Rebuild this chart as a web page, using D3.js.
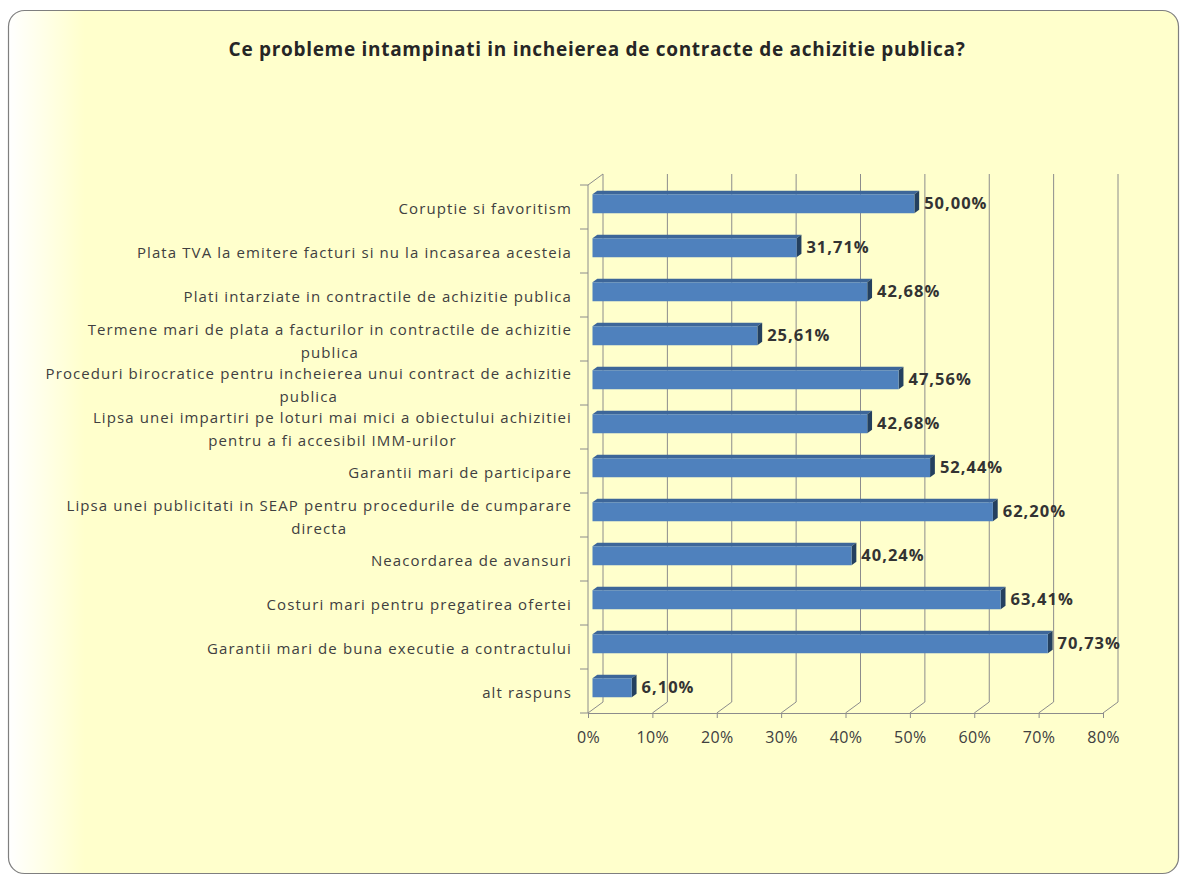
<!DOCTYPE html>
<html>
<head>
<meta charset="utf-8">
<script src="https://cdn.jsdelivr.net/npm/d3@7"></script>
<style>
  html, body { margin: 0; padding: 0; background: #fff; }
  text { font-family: "Open Sans", "Liberation Sans", sans-serif; }
</style>
</head>
<body>
<div id="chart"></div>
<script>
"use strict";

// categories (top to bottom), each label split into lines as in the chart
const categories = [
    ["Coruptie si favoritism"],
    ["Plata TVA la emitere facturi si nu la incasarea acesteia"],
    ["Plati intarziate in contractile de achizitie publica"],
    ["Termene mari de plata a facturilor in contractile de achizitie", "publica"],
    ["Proceduri birocratice pentru incheierea unui contract de achizitie", "publica"],
    ["Lipsa unei impartiri pe loturi mai mici a obiectului achizitiei", "pentru a fi accesibil IMM-urilor"],
    ["Garantii mari de participare"],
    ["Lipsa unei publicitati in SEAP pentru procedurile de cumparare", "directa"],
    ["Neacordarea de avansuri"],
    ["Costuri mari pentru pregatirea ofertei"],
    ["Garantii mari de buna executie a contractului"],
    ["alt raspuns"]
];
const values = [50.00, 31.71, 42.68, 25.61, 47.56, 42.68, 52.44, 62.20, 40.24, 63.41, 70.73, 6.10];
const xTicks = [0, 10, 20, 30, 40, 50, 60, 70, 80];
const title = "Ce probleme intampinati in incheierea de contracte de achizitie publica?";

const W = 1181, H = 876;
const svg = d3.select("#chart").append("svg")
    .attr("width", W)
    .attr("height", H);

// fond cu gradient alb -> galben
const defs = svg.append("defs");
const grad = defs.append("linearGradient")
    .attr("id", "bg")
    .attr("x1", "0").attr("x2", "1").attr("y1", "0").attr("y2", "0");
grad.append("stop").attr("offset", "0").attr("stop-color", "#ffffff");
grad.append("stop").attr("offset", "0.065").attr("stop-color", "#ffffcc");
grad.append("stop").attr("offset", "1").attr("stop-color", "#ffffcc");

svg.append("rect")
    .attr("x", 8.5).attr("y", 10.5)
    .attr("width", 1170).attr("height", 863)
    .attr("rx", 16).attr("ry", 16)
    .attr("fill", "url(#bg)")
    .attr("stroke", "#7f7f7f")
    .attr("stroke-width", 1.2);

svg.append("text")
    .attr("x", 597)
    .attr("y", 56)
    .attr("text-anchor", "middle")
    .attr("font-size", 19)
    .attr("letter-spacing", 0.7)
    .attr("font-weight", "bold")
    .attr("fill", "#262626")
    .text(title);

// scale
const x = d3.scaleLinear().domain([0, 80]).range([588, 1103]);
const y = d3.scaleBand().domain(d3.range(categories.length)).range([185, 713]);

// adancime 3D
const depthX = 15, depthY = 11;
const P = (v, yy, d) => [x(v) + depthX * d, yy - depthY * d];
const grid = svg.append("g").attr("stroke", "#8c8c8c").attr("stroke-width", 1).attr("fill", "none");
const yTop = 185, yBot = 713;

// perete spate: linii verticale + diagonale pe podea
xTicks.forEach(t => {
    const [bx, by] = P(t, yBot, 1);
    const [tx, ty] = P(t, yTop, 1);
    grid.append("line").attr("x1", bx).attr("y1", by).attr("x2", tx).attr("y2", ty);
    grid.append("line").attr("x1", x(t)).attr("y1", yBot).attr("x2", bx).attr("y2", by);
});
// peretele stang: diagonala sus
{
    const [tx, ty] = P(0, yTop, 1);
    grid.append("line").attr("x1", x(0)).attr("y1", yTop).attr("x2", tx).attr("y2", ty);
}
// axa verticala fata
grid.append("line").attr("x1", x(0)).attr("y1", yTop).attr("x2", x(0)).attr("y2", yBot);
// tick-uri categorii
d3.range(categories.length + 1).forEach(i => {
    const yy = yTop + i * y.step();
    grid.append("line").attr("x1", x(0) - 8).attr("y1", yy).attr("x2", x(0)).attr("y2", yy);
});

// axa orizontala
const xAxis = svg.append("g")
    .attr("transform", `translate(0,${yBot})`)
    .call(d3.axisBottom(x).tickValues(xTicks).tickSize(5).tickPadding(14).tickFormat(d => d + "%"));
xAxis.select(".domain").attr("stroke", "#8c8c8c");
xAxis.selectAll(".tick line").attr("stroke", "#8c8c8c");
xAxis.selectAll(".tick text")
    .attr("font-size", 16)
    .attr("letter-spacing", 0.4)
    .attr("fill", "#404040")
    .attr("font-family", "Open Sans, sans-serif");

// bare 3D
const d0 = 0.3, d1 = 0.62;
const barH = 19;
const bars = svg.append("g");
values.forEach((v, i) => {
    const yc = y(i) + y.bandwidth() / 2;
    const yt = yc - barH / 2, yb = yc + barH / 2;
    const a = P(0, yt, d0), b = P(v, yt, d0), c = P(v, yb, d0), e = P(0, yb, d0);
    const a2 = P(0, yt, d1), b2 = P(v, yt, d1), c2 = P(v, yb, d1);
    const poly = pts => pts.map(p => p.join(",")).join(" ");
    // fata de sus
    bars.append("polygon").attr("points", poly([a, b, b2, a2])).attr("fill", "#3d6699");
    // latura dreapta
    bars.append("polygon").attr("points", poly([b, b2, c2, c])).attr("fill", "#24405f");
    // fata
    bars.append("polygon").attr("points", poly([a, b, c, e])).attr("fill", "#4f81bd");

    bars.append("text")
        .attr("x", b2[0] + 5)
        .attr("y", (a[1] + e[1]) / 2)
        .attr("dy", "0.35em")
        .attr("font-size", 16.5)
        .attr("letter-spacing", 1)
        .attr("font-weight", "bold")
        .attr("fill", "#333333")
        .text(v.toFixed(2).replace(".", ",") + "%");
});

// etichete categorii, aliniate la dreapta, randurile centrate intre ele
const labelRight = 572;
const lineH = 23;
const labels = svg.append("g");
categories.forEach((lines, i) => {
    const yc = y(i) + y.bandwidth() / 2 + 2;
    const g = labels.append("g");
    const texts = lines.map((s, k) => g.append("text")
        .attr("y", yc + (k - (lines.length - 1) / 2) * lineH)
        .attr("dy", "0.35em")
        .attr("text-anchor", "middle")
        .attr("font-size", 15)
        .attr("letter-spacing", 1.1)
        .attr("fill", "#404040")
        .text(s));
    const maxW = d3.max(texts, t => t.node().getComputedTextLength());
    texts.forEach(t => t.attr("x", labelRight - maxW / 2));
});
</script>
</body>
</html>
